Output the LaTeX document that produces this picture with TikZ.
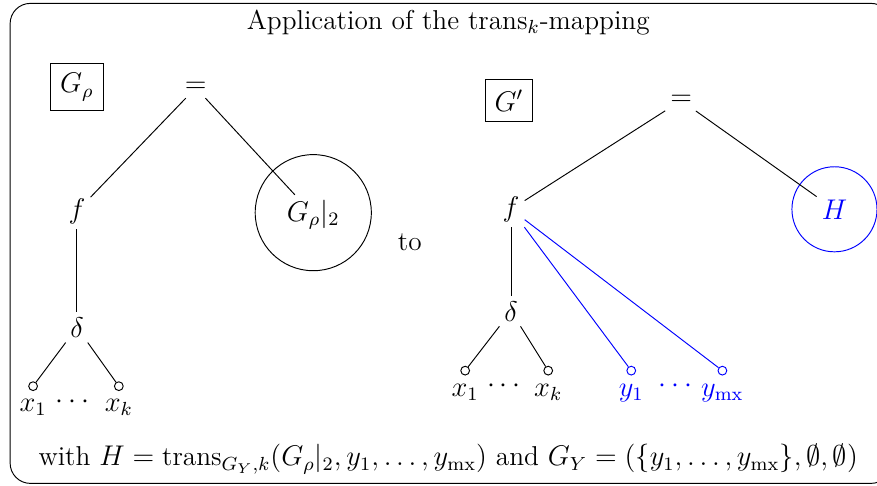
\documentclass[tikz,border=0pt]{standalone}
\usepackage{amsmath}
\usepackage{tikz}
\usetikzlibrary{positioning, calc}

\begin{document}
\begin{tikzpicture}[
          font=\fontsize{11.5}{13.8}\selectfont,
          term/.style={inner sep=2pt},
          graphname/.style={draw, rectangle, inner sep=4pt, minimum height=0.63cm},
          leaf/.style={circle, draw, inner sep=0pt, minimum size=0.13cm},
          edge/.style={thin},
          new/.style={blue}
        ]
        \useasboundingbox (0,0) rectangle (12.99,7.19);
        \draw[rounded corners=0.3cm] (0.15,0.03) rectangle (13.2,7.14);
        \node (title) at (6.64,6.86) {Application of the $\text{trans}_k$-mapping};

        % left graph
        \node[graphname] (grho) at (1.14,5.90) {$G_\rho$};
        \node[term] (eqL) at (2.90,5.89) {$=$};
        \node[term] (fL) at (1.14,4.06) {$f$};
        \node[term] (gsub) at (4.64,4.01) {$G_\rho|_2$};
        \draw (4.64,4.04) circle (0.86);
        \node[term] (dL) at (1.14,2.34) {$\delta$};
        \node[leaf, label={[label distance=0pt]below:$x_1$}] (xL1) at (0.49,1.47) {};
        \node[leaf, label={[label distance=0pt]below:$x_k$}] (xLk) at (1.76,1.47) {};
        \node (dotsL) at (1.11,1.24) {$\cdots$};

        \draw[edge] (eqL) -- (fL);
        \draw[edge] (eqL) -- (gsub);
        \draw[edge] (fL) -- (dL);
        \draw[edge] (dL) -- (xL1);
        \draw[edge] (dL) -- (xLk);

        \node (to) at (6.07,3.60) {to};

        % right graph
        \node[graphname] (gprime) at (7.54,5.70) {$G'$};
        \node[term] (eqR) at (10.09,5.70) {$=$};
        \node[term] (fR) at (7.57,4.09) {$f$};
        \node[term, new] (hR) at (12.36,4.09) {$H$};
        \draw[new] (hR) circle (0.63);
        \node[term] (dR) at (7.57,2.58) {$\delta$};
        \node[leaf, label={[label distance=0pt]below:$x_1$}] (xR1) at (6.89,1.70) {};
        \node[leaf, label={[label distance=0pt]below:$x_k$}] (xRk) at (8.12,1.70) {};
        \node (dotsR) at (7.50,1.47) {$\cdots$};
        \node[leaf, new, label={[new, label distance=0pt]below:$y_1$}] (yR1) at (9.35,1.70) {};
        \node[leaf, new, label={[new, label distance=0pt]below:$y_{\text{mx}}$}] (yRmx) at (10.70,1.70) {};
        \node[new] (dotsY) at (10.04,1.47) {$\cdots$};

        \draw[edge] (eqR) -- (fR);
        \draw[edge] (eqR) -- (hR);
        \draw[edge] (fR) -- (dR);
        \draw[edge] (dR) -- (xR1);
        \draw[edge] (dR) -- (xRk);
        \draw[edge, new] (fR) -- (yR1);
        \draw[edge, new] (fR) -- (yRmx);

        % explanation
        \node (expl) at (6.64,0.39) {with $H=\text{trans}_{G_Y,k}(G_\rho|_2,y_1,\ldots,y_{\text{mx}})$ and $G_Y=(\{y_1,\ldots,y_{\text{mx}}\},\emptyset,\emptyset)$};
      \end{tikzpicture}
\end{document}
